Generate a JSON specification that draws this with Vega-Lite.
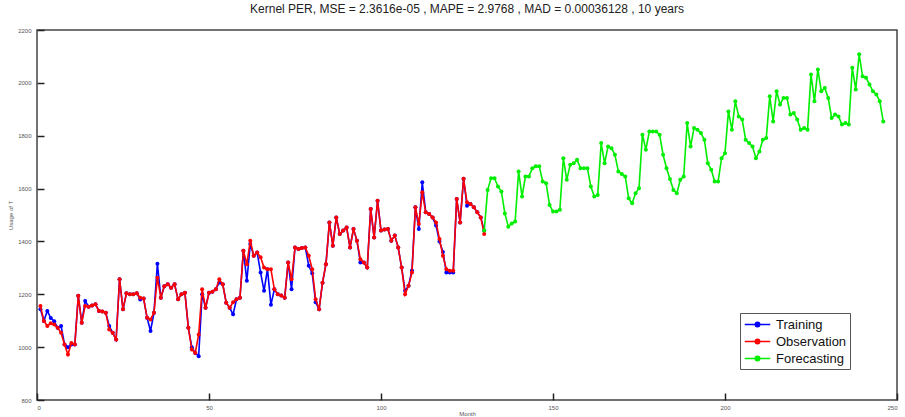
{
"$schema": "https://vega.github.io/schema/vega-lite/v6.json",
"width": 860, "height": 370,
"autosize": "none",
"padding": {"left": 37, "top": 30, "right": 8, "bottom": 17},
"background": "white",
"title": {"text": "Kernel PER, MSE = 2.3616e-05 , MAPE = 2.9768 , MAD = 0.00036128 , 10 years", "font": "Liberation Sans", "fontSize": 12, "fontWeight": "normal", "color": "#222", "offset": 11, "anchor": "middle"},
"config": {
  "view": {"stroke": "#444", "strokeWidth": 1.5},
  "axis": {"domain": false, "offset": -7, "tickColor": "#222", "tickWidth": 1.5, "tickSize": 7, "labelPadding": 6, "labelFont": "Liberation Sans", "labelFontSize": 6, "labelColor": "#555", "titleFont": "Liberation Sans", "titleFontSize": 6, "titleFontWeight": "normal", "titleColor": "#555", "grid": false},
  "legend": {"labelFont": "Liberation Sans", "labelFontSize": 13, "labelColor": "#111"}
},
"datasets": {
"train": [{"m":1,"v":1143},{"m":2,"v":1099},{"m":3,"v":1137},{"m":4,"v":1110},{"m":5,"v":1098},{"m":6,"v":1073},{"m":7,"v":1080},{"m":8,"v":1010},{"m":9,"v":1000},{"m":10,"v":1010},{"m":11,"v":1010},{"m":12,"v":1194},{"m":13,"v":1092},{"m":14,"v":1175},{"m":15,"v":1153},{"m":16,"v":1158},{"m":17,"v":1162},{"m":18,"v":1137},{"m":19,"v":1135},{"m":20,"v":1130},{"m":21,"v":1080},{"m":22,"v":1054},{"m":23,"v":1029},{"m":24,"v":1257},{"m":25,"v":1143},{"m":26,"v":1204},{"m":27,"v":1200},{"m":28,"v":1200},{"m":29,"v":1204},{"m":30,"v":1180},{"m":31,"v":1184},{"m":32,"v":1111},{"m":33,"v":1061},{"m":34,"v":1130},{"m":35,"v":1316},{"m":36,"v":1187},{"m":37,"v":1230},{"m":38,"v":1238},{"m":39,"v":1225},{"m":40,"v":1238},{"m":41,"v":1181},{"m":42,"v":1200},{"m":43,"v":1206},{"m":44,"v":1073},{"m":45,"v":1000},{"m":46,"v":978},{"m":47,"v":966},{"m":48,"v":1200},{"m":49,"v":1149},{"m":50,"v":1206},{"m":51,"v":1210},{"m":52,"v":1219},{"m":53,"v":1245},{"m":54,"v":1238},{"m":55,"v":1168},{"m":56,"v":1149},{"m":57,"v":1124},{"m":58,"v":1181},{"m":59,"v":1187},{"m":60,"v":1365},{"m":61,"v":1251},{"m":62,"v":1390},{"m":63,"v":1346},{"m":64,"v":1358},{"m":65,"v":1282},{"m":66,"v":1213},{"m":67,"v":1295},{"m":68,"v":1160},{"m":69,"v":1219},{"m":70,"v":1200},{"m":71,"v":1195},{"m":72,"v":1187},{"m":73,"v":1320},{"m":74,"v":1219},{"m":75,"v":1377},{"m":76,"v":1371},{"m":77,"v":1375},{"m":78,"v":1377},{"m":79,"v":1308},{"m":80,"v":1280},{"m":81,"v":1170},{"m":82,"v":1143},{"m":83,"v":1244},{"m":84,"v":1314},{"m":85,"v":1472},{"m":86,"v":1384},{"m":87,"v":1491},{"m":88,"v":1428},{"m":89,"v":1441},{"m":90,"v":1453},{"m":91,"v":1377},{"m":92,"v":1447},{"m":93,"v":1403},{"m":94,"v":1320},{"m":95,"v":1320},{"m":96,"v":1301},{"m":97,"v":1523},{"m":98,"v":1415},{"m":99,"v":1554},{"m":100,"v":1441},{"m":101,"v":1445},{"m":102,"v":1447},{"m":103,"v":1403},{"m":104,"v":1422},{"m":105,"v":1377},{"m":106,"v":1301},{"m":107,"v":1213},{"m":108,"v":1232},{"m":109,"v":1290},{"m":110,"v":1529},{"m":111,"v":1447},{"m":112,"v":1624},{"m":113,"v":1510},{"m":114,"v":1504},{"m":115,"v":1491},{"m":116,"v":1460},{"m":117,"v":1400},{"m":118,"v":1360},{"m":119,"v":1282},{"m":120,"v":1282},{"m":121,"v":1282},{"m":122,"v":1561},{"m":123,"v":1472},{"m":124,"v":1637},{"m":125,"v":1535},{"m":126,"v":1542},{"m":127,"v":1529},{"m":128,"v":1510},{"m":129,"v":1491},{"m":130,"v":1441}],
"obs": [{"m":1,"v":1156},{"m":2,"v":1099},{"m":3,"v":1080},{"m":4,"v":1090},{"m":5,"v":1086},{"m":6,"v":1073},{"m":7,"v":1054},{"m":8,"v":1010},{"m":9,"v":972},{"m":10,"v":1016},{"m":11,"v":1010},{"m":12,"v":1194},{"m":13,"v":1092},{"m":14,"v":1156},{"m":15,"v":1153},{"m":16,"v":1158},{"m":17,"v":1162},{"m":18,"v":1137},{"m":19,"v":1135},{"m":20,"v":1130},{"m":21,"v":1067},{"m":22,"v":1054},{"m":23,"v":1029},{"m":24,"v":1257},{"m":25,"v":1143},{"m":26,"v":1204},{"m":27,"v":1200},{"m":28,"v":1200},{"m":29,"v":1204},{"m":30,"v":1187},{"m":31,"v":1184},{"m":32,"v":1111},{"m":33,"v":1105},{"m":34,"v":1130},{"m":35,"v":1263},{"m":36,"v":1187},{"m":37,"v":1230},{"m":38,"v":1238},{"m":39,"v":1225},{"m":40,"v":1238},{"m":41,"v":1181},{"m":42,"v":1200},{"m":43,"v":1206},{"m":44,"v":1073},{"m":45,"v":991},{"m":46,"v":978},{"m":47,"v":1048},{"m":48,"v":1219},{"m":49,"v":1149},{"m":50,"v":1206},{"m":51,"v":1210},{"m":52,"v":1219},{"m":53,"v":1257},{"m":54,"v":1238},{"m":55,"v":1168},{"m":56,"v":1149},{"m":57,"v":1170},{"m":58,"v":1181},{"m":59,"v":1187},{"m":60,"v":1365},{"m":61,"v":1314},{"m":62,"v":1403},{"m":63,"v":1346},{"m":64,"v":1358},{"m":65,"v":1340},{"m":66,"v":1301},{"m":67,"v":1295},{"m":68,"v":1295},{"m":69,"v":1219},{"m":70,"v":1200},{"m":71,"v":1195},{"m":72,"v":1187},{"m":73,"v":1320},{"m":74,"v":1257},{"m":75,"v":1377},{"m":76,"v":1371},{"m":77,"v":1375},{"m":78,"v":1377},{"m":79,"v":1346},{"m":80,"v":1295},{"m":81,"v":1181},{"m":82,"v":1143},{"m":83,"v":1244},{"m":84,"v":1314},{"m":85,"v":1472},{"m":86,"v":1384},{"m":87,"v":1491},{"m":88,"v":1428},{"m":89,"v":1441},{"m":90,"v":1453},{"m":91,"v":1377},{"m":92,"v":1447},{"m":93,"v":1403},{"m":94,"v":1333},{"m":95,"v":1320},{"m":96,"v":1301},{"m":97,"v":1523},{"m":98,"v":1415},{"m":99,"v":1554},{"m":100,"v":1441},{"m":101,"v":1445},{"m":102,"v":1447},{"m":103,"v":1403},{"m":104,"v":1422},{"m":105,"v":1377},{"m":106,"v":1301},{"m":107,"v":1200},{"m":108,"v":1232},{"m":109,"v":1282},{"m":110,"v":1529},{"m":111,"v":1466},{"m":112,"v":1586},{"m":113,"v":1510},{"m":114,"v":1504},{"m":115,"v":1491},{"m":116,"v":1472},{"m":117,"v":1409},{"m":118,"v":1346},{"m":119,"v":1295},{"m":120,"v":1289},{"m":121,"v":1289},{"m":122,"v":1561},{"m":123,"v":1472},{"m":124,"v":1637},{"m":125,"v":1548},{"m":126,"v":1542},{"m":127,"v":1529},{"m":128,"v":1510},{"m":129,"v":1491},{"m":130,"v":1428}],
"fc": [{"m":130,"v":1441},{"m":131,"v":1595},{"m":132,"v":1639},{"m":133,"v":1639},{"m":134,"v":1608},{"m":135,"v":1589},{"m":136,"v":1506},{"m":137,"v":1456},{"m":138,"v":1468},{"m":139,"v":1475},{"m":140,"v":1665},{"m":141,"v":1570},{"m":142,"v":1646},{"m":143,"v":1646},{"m":144,"v":1677},{"m":145,"v":1684},{"m":146,"v":1684},{"m":147,"v":1627},{"m":148,"v":1620},{"m":149,"v":1538},{"m":150,"v":1513},{"m":151,"v":1513},{"m":152,"v":1520},{"m":153,"v":1715},{"m":154,"v":1633},{"m":155,"v":1690},{"m":156,"v":1696},{"m":157,"v":1709},{"m":158,"v":1677},{"m":159,"v":1677},{"m":160,"v":1677},{"m":161,"v":1608},{"m":162,"v":1570},{"m":163,"v":1576},{"m":164,"v":1772},{"m":165,"v":1696},{"m":166,"v":1759},{"m":167,"v":1753},{"m":168,"v":1728},{"m":169,"v":1665},{"m":170,"v":1655},{"m":171,"v":1646},{"m":172,"v":1563},{"m":173,"v":1544},{"m":174,"v":1582},{"m":175,"v":1601},{"m":176,"v":1804},{"m":177,"v":1747},{"m":178,"v":1816},{"m":179,"v":1816},{"m":180,"v":1816},{"m":181,"v":1804},{"m":182,"v":1728},{"m":183,"v":1677},{"m":184,"v":1636},{"m":185,"v":1595},{"m":186,"v":1582},{"m":187,"v":1633},{"m":188,"v":1646},{"m":189,"v":1848},{"m":190,"v":1759},{"m":191,"v":1829},{"m":192,"v":1823},{"m":193,"v":1810},{"m":194,"v":1785},{"m":195,"v":1696},{"m":196,"v":1671},{"m":197,"v":1627},{"m":198,"v":1627},{"m":199,"v":1715},{"m":200,"v":1734},{"m":201,"v":1892},{"m":202,"v":1823},{"m":203,"v":1930},{"m":204,"v":1873},{"m":205,"v":1861},{"m":206,"v":1785},{"m":207,"v":1772},{"m":208,"v":1759},{"m":209,"v":1715},{"m":210,"v":1740},{"m":211,"v":1785},{"m":212,"v":1791},{"m":213,"v":1949},{"m":214,"v":1854},{"m":215,"v":1968},{"m":216,"v":1918},{"m":217,"v":1943},{"m":218,"v":1943},{"m":219,"v":1880},{"m":220,"v":1886},{"m":221,"v":1861},{"m":222,"v":1823},{"m":223,"v":1829},{"m":224,"v":1823},{"m":225,"v":2032},{"m":226,"v":1930},{"m":227,"v":2051},{"m":228,"v":1968},{"m":229,"v":1981},{"m":230,"v":1943},{"m":231,"v":1867},{"m":232,"v":1880},{"m":233,"v":1873},{"m":234,"v":1842},{"m":235,"v":1848},{"m":236,"v":1842},{"m":237,"v":2057},{"m":238,"v":1975},{"m":239,"v":2108},{"m":240,"v":2025},{"m":241,"v":2019},{"m":242,"v":1994},{"m":243,"v":1968},{"m":244,"v":1956},{"m":245,"v":1930},{"m":246,"v":1854}]
},
"encoding": {
  "x": {"field": "m", "type": "quantitative", "title": "Month", "scale": {"domain": [0, 250], "nice": false, "zero": false}, "axis": {"values": [0, 50, 100, 150, 200, 250], "format": "d", "labelPadding": 4, "titlePadding": 0}},
  "y": {"field": "v", "type": "quantitative", "title": "Usage of T", "scale": {"domain": [800, 2200], "nice": false, "zero": false}, "axis": {"values": [800, 1000, 1200, 1400, 1600, 1800, 2000, 2200], "format": "d", "titlePadding": 4}}
},
"layer": [
  {"data": {"name": "train"}, "mark": {"type": "line", "strokeWidth": 1.6, "point": {"filled": true, "size": 16}},
   "encoding": {"color": {"datum": "Training", "type": "nominal", "scale": {"domain": ["Training", "Observation", "Forecasting"], "range": ["#0000ff", "#ff0000", "#00ee00"]},
     "legend": {"title": null, "orient": "none", "legendX": 703, "legendY": 283, "fillColor": "white", "strokeColor": "#555", "padding": 3, "rowPadding": 1, "symbolOffset": 6, "labelOffset": 10, "symbolType": "M-1.7,0H1.7M-0.3,0A0.3,0.3 0 1,0 0.3,0A0.3,0.3 0 1,0 -0.3,0", "symbolSize": 225, "symbolStrokeWidth": 1.5,
       "encode": {"symbols": {"update": {"fill": {"scale": "color", "field": "value"}}}}}}}},
  {"data": {"name": "obs"}, "mark": {"type": "line", "strokeWidth": 1.6, "point": {"filled": true, "size": 16}},
   "encoding": {"color": {"datum": "Observation", "type": "nominal"}}},
  {"data": {"name": "fc"}, "mark": {"type": "line", "strokeWidth": 1.6, "point": {"filled": true, "size": 16}},
   "encoding": {"color": {"datum": "Forecasting", "type": "nominal"}}}
]
}
